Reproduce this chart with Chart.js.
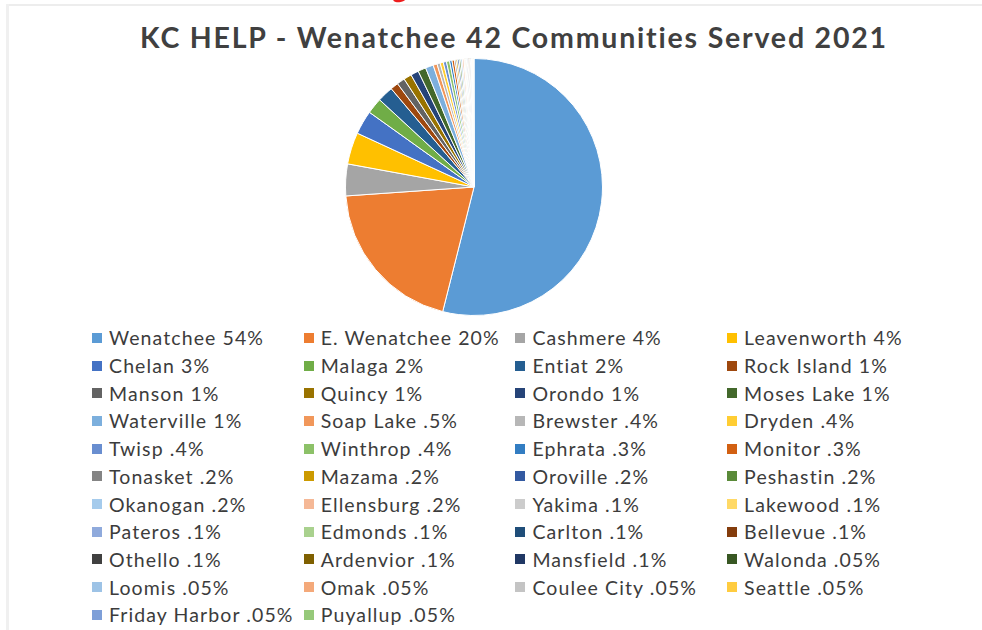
<!DOCTYPE html>
<html>
<head>
<meta charset="utf-8">
<script src="https://cdn.jsdelivr.net/npm/chart.js@4.4.1/dist/chart.umd.min.js"></script>
<style>
  html, body { margin: 0; padding: 0; background: #ffffff; }
  body { width: 982px; height: 630px; position: relative; overflow: hidden; font-family: "Lato", "Open Sans", sans-serif; }
  #frameTop { position: absolute; left: 6px; top: 4px; width: 976px; height: 2px; background: #ededed; }
  #frameLeft { position: absolute; left: 6px; top: 4px; width: 3px; height: 626px; background: #f0f0f0; }
  #redMark { position: absolute; left: 393px; top: -5px; width: 14px; height: 7px; background: #ee1c1c; border-radius: 50%; transform: rotate(-12deg); }
  #title { position: absolute; left: 0; width: 1028px; top: 19.7px; text-align: center; font-weight: 700; font-size: 28.5px; line-height: 1.2; letter-spacing: 1.8px; color: #404040; white-space: nowrap; }
  #pieWrap { position: absolute; left: 345px; top: 58px; width: 258px; height: 258px; }
  #legend { position: absolute; left: 92px; top: 324px; width: 850px; }
  .item { position: absolute; height: 27.7px; display: flex; align-items: center; white-space: nowrap; color: #3c3c3c; font-size: 19.5px; letter-spacing: 1.1px; }
  .box { width: 10px; height: 10px; margin-right: 7px; flex: none; }
</style>
</head>
<body>
<div id="frameTop"></div>
<div id="frameLeft"></div>
<div id="redMark"></div>
<div id="title">KC HELP - Wenatchee 42 Communities Served 2021</div>
<div id="pieWrap"><canvas id="pie" width="258" height="258"></canvas></div>
<div id="legend"></div>
<script>
const cities = ["Wenatchee","E. Wenatchee","Cashmere","Leavenworth","Chelan","Malaga","Entiat","Rock Island",
  "Manson","Quincy","Orondo","Moses Lake","Waterville","Soap Lake","Brewster","Dryden",
  "Twisp","Winthrop","Ephrata","Monitor","Tonasket","Mazama","Oroville","Peshastin",
  "Okanogan","Ellensburg","Yakima","Lakewood","Pateros","Edmonds","Carlton","Bellevue",
  "Othello","Ardenvior","Mansfield","Walonda","Loomis","Omak","Coulee City","Seattle",
  "Friday Harbor","Puyallup"];
const pctLabels = ["54%","20%","4%","4%","3%","2%","2%","1%",
  "1%","1%","1%","1%","1%",".5%",".4%",".4%",
  ".4%",".4%",".3%",".3%",".2%",".2%",".2%",".2%",
  ".2%",".2%",".1%",".1%",".1%",".1%",".1%",".1%",
  ".1%",".1%",".1%",".05%",".05%",".05%",".05%",".05%",
  ".05%",".05%"];
const shares = [54,20,4,4,3,2,2,1,
  1,1,1,1,1,0.5,0.4,0.4,
  0.4,0.4,0.3,0.3,0.2,0.2,0.2,0.2,
  0.2,0.2,0.1,0.1,0.1,0.1,0.1,0.1,
  0.1,0.1,0.1,0.05,0.05,0.05,0.05,0.05,
  0.05,0.05];
const palette = ["#5B9BD5","#ED7D31","#A5A5A5","#FFC000","#4472C4","#70AD47","#255E91","#9E480E",
  "#636363","#997300","#264478","#43682B","#7CAFDD","#F1975A","#B7B7B7","#FFCD33",
  "#698ED0","#8CC168","#327DC2","#D26012","#848484","#CC9A00","#335AA1","#5A8A39",
  "#A5CBEC","#F5B896","#CCCCCC","#FFD966","#8FAADC","#A9D18E","#1F4E79","#843C0C",
  "#404040","#7F6000","#203864","#385723","#9DC3E6","#F4A97A","#C4C4C4","#FFCC40",
  "#7E9FD8","#96C97A"];

const labels = cities.map((c, i) => c + " " + pctLabels[i]);

const chart = new Chart(document.getElementById("pie"), {
  type: "pie",
  data: {
    labels: labels,
    datasets: [{
      data: shares,
      backgroundColor: palette,
      borderColor: "#ffffff",
      borderWidth: 1
    }]
  },
  options: {
    responsive: false,
    animation: false,
    events: [],
    plugins: {
      legend: { display: false },
      title: { display: false },
      tooltip: { enabled: false }
    }
  }
});

// Grid legend built from the chart's own legend items
const legendEl = document.getElementById("legend");
const items = chart.options.plugins.legend.labels.generateLabels(chart);
const colW = 211.7, rowH = 27.7, cols = 4;
items.forEach((it, i) => {
  const d = document.createElement("div");
  d.className = "item";
  d.style.left = ((i % cols) * colW) + "px";
  d.style.top = (Math.floor(i / cols) * rowH) + "px";
  const b = document.createElement("span");
  b.className = "box";
  b.style.background = it.fillStyle;
  const t = document.createElement("span");
  t.textContent = it.text;
  d.appendChild(b);
  d.appendChild(t);
  legendEl.appendChild(d);
});
</script>
</body>
</html>
